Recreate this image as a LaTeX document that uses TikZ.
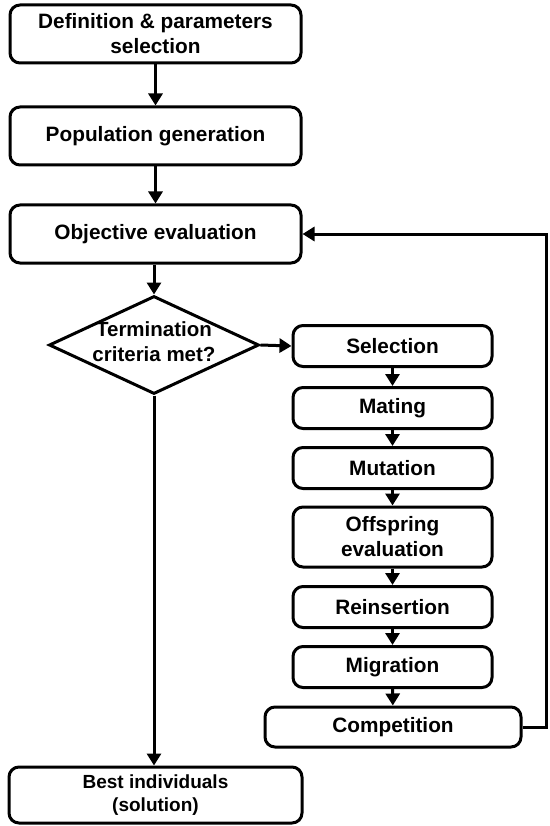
\documentclass[tikz,border=0pt]{standalone}
\usepackage{fontspec}
\setmainfont{Liberation Sans}
\usetikzlibrary{shapes.geometric,arrows.meta}
\begin{document}
\begin{tikzpicture}[x=1pt,y=-1pt,
  box/.style={draw,line width=3pt,rounded corners=10pt,inner sep=0pt,align=center,
    font=\fontsize{20.8}{25}\selectfont\bfseries},
  bigbox/.style={box,minimum width=291pt,minimum height=58pt},
  smallbox/.style={box,minimum width=199pt,minimum height=41pt},
  dec/.style={draw,line width=3pt,diamond,inner sep=0pt,aspect=2.14,minimum width=210pt,minimum height=98pt},
  conn/.style={line width=3pt,-{Triangle[length=12pt,width=14pt]}}]
\useasboundingbox (0,0) rectangle (549,826);
\node[bigbox] (def) at (155.5,34) {Definition \& parameters\\selection};
\node[bigbox] (pop) at (155.5,136) {Population generation};
\node[bigbox] (obj) at (155.5,234) {Objective evaluation};
\node[dec] (term) at (154,345) {};
\node[align=center,inner sep=0pt,font=\fontsize{20.5}{25}\selectfont\bfseries] (termtxt) at (154,342) {Termination\\criteria met?};
\node[smallbox] (sel) at (392.5,346) {Selection};
\node[smallbox] (mat) at (392.5,408) {Mating};
\node[smallbox] (mut) at (392.5,468) {Mutation};
\node[smallbox,minimum height=60pt] (off) at (392.5,537) {Offspring\\evaluation};
\node[smallbox] (rei) at (392.5,607) {Reinsertion};
\node[smallbox] (mig) at (392.5,667) {Migration};
\node[box,minimum width=256pt,minimum height=40pt] (comp) at (393,727) {Competition};
\node[box,minimum width=293pt,minimum height=56pt,font=\fontsize{19}{23}\selectfont\bfseries] (best) at (155.5,795) {Best individuals\\(solution)};
\coordinate (r1) at (546.5,727);
\coordinate (r2) at (546.5,234);
\draw[conn] (def) -- (pop);
\draw[conn] (pop) -- (obj);
\draw[conn] (obj.south -| term.north) -- (term.north);
\draw[conn] (term.east) -- (sel.west);
\draw[conn] (sel) -- (mat);
\draw[conn] (mat) -- (mut);
\draw[conn] (mut) -- (off);
\draw[conn] (off) -- (rei);
\draw[conn] (rei) -- (mig);
\draw[conn] (mig) -- (comp);
\draw[conn] (term.south) -- (term.south |- best.north);
\draw[conn] (comp.east) -- (r1) -- (r2) -- (obj.east);
\end{tikzpicture}
\end{document}
